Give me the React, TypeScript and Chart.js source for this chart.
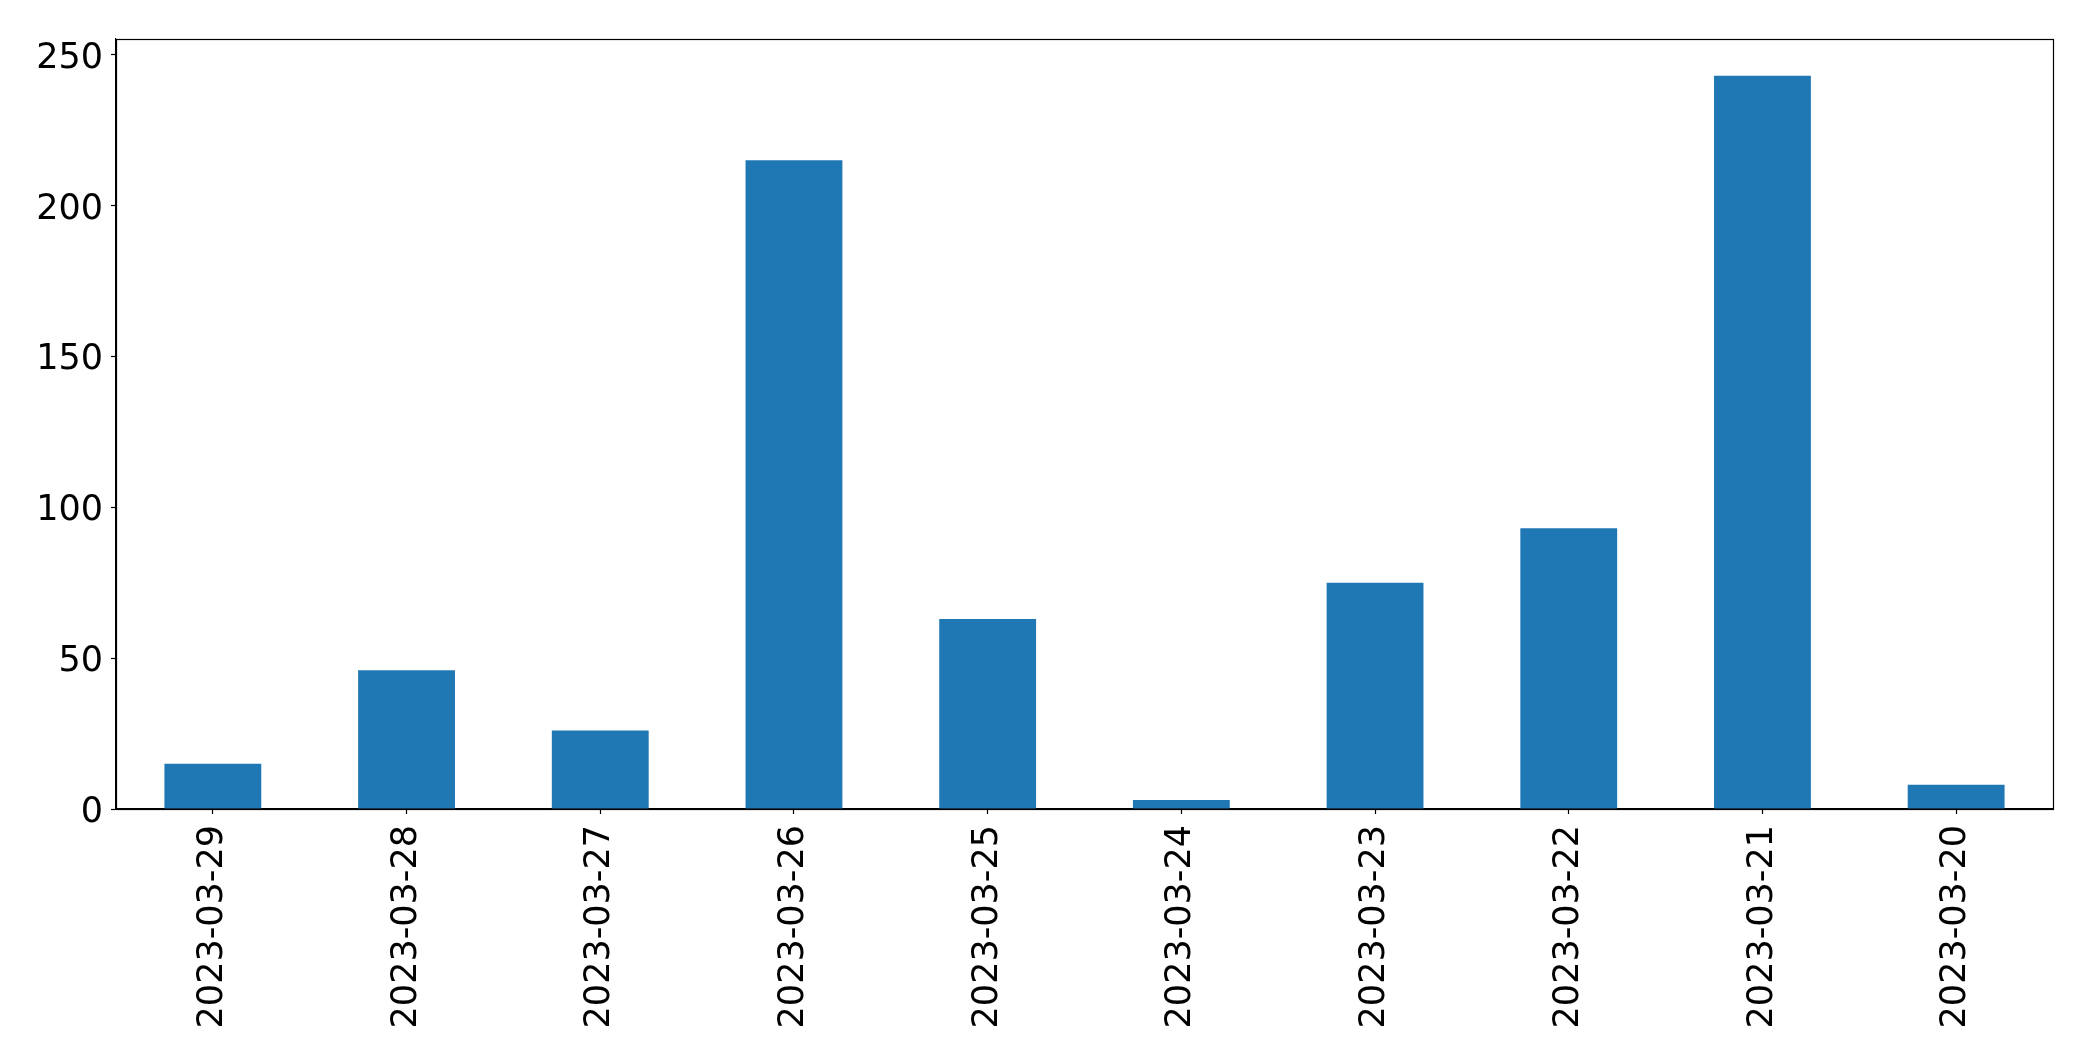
import React, { useEffect, useRef } from "react";
import { Chart, registerables } from "chart.js";

Chart.register(...registerables);

const categories = [
  "2023-03-29",
  "2023-03-28",
  "2023-03-27",
  "2023-03-26",
  "2023-03-25",
  "2023-03-24",
  "2023-03-23",
  "2023-03-22",
  "2023-03-21",
  "2023-03-20",
];
const counts = [15, 46, 26, 215, 63, 3, 75, 93, 243, 8];
const yTicks = [0, 50, 100, 150, 200, 250];
const yMax = 255.15;

const W = 2093;
const H = 1061;
const LEFT = 116;
const RIGHT = 2053;
const TOP = 39;
const BOTTOM = 809;

const framePlugin = {
  id: "frame",
  afterDatasetsDraw(chart: any) {
    const { ctx, chartArea } = chart;
    ctx.save();
    ctx.strokeStyle = "#000";
    ctx.lineWidth = 1.2;
    ctx.strokeRect(
      Math.round(chartArea.left) + 0.5,
      Math.round(chartArea.top) + 0.5,
      Math.round(chartArea.right - chartArea.left),
      Math.round(chartArea.bottom - chartArea.top)
    );
    ctx.restore();
  },
};

export default function App() {
  const ref = useRef<HTMLCanvasElement | null>(null);
  useEffect(() => {
    if (!ref.current) return;
    const font = { family: "'DejaVu Sans', sans-serif", size: 35 };
    const chart = new Chart(ref.current, {
      type: "bar",
      data: {
        labels: categories,
        datasets: [
          {
            data: counts,
            backgroundColor: "#1f77b4",
            borderWidth: 0,
            barPercentage: 0.5,
            categoryPercentage: 1,
          },
        ],
      },
      plugins: [framePlugin],
      options: {
        responsive: false,
        animation: false,
        devicePixelRatio: 1,
        layout: { padding: { left: 0, top: TOP, right: W - RIGHT, bottom: 0 } },
        plugins: { legend: { display: false }, tooltip: { enabled: false } },
        scales: {
          x: {
            offset: true,
            grid: {
              display: true,
              offset: false,
              drawOnChartArea: false,
              drawTicks: true,
              tickLength: 5,
              tickWidth: 1.2,
              tickColor: "#000",
            },
            border: { display: true, color: "#000", width: 1.2 },
            ticks: {
              color: "#000",
              font,
              minRotation: 90,
              maxRotation: 90,
              padding: 11,
              autoSkip: false,
            },
            afterFit(scale: any) {
              scale.height = H - BOTTOM;
            },
          },
          y: {
            min: 0,
            max: yMax,
            grid: {
              display: true,
              drawOnChartArea: false,
              drawTicks: true,
              tickLength: 5,
              tickWidth: 1.2,
              tickColor: "#000",
            },
            border: { display: true, color: "#000", width: 1.2 },
            ticks: {
              color: "#000",
              font,
              padding: 8,
              labelOffset: 4,
            },
            afterBuildTicks(scale: any) {
              scale.ticks = yTicks.map((v) => ({ value: v }));
            },
            afterFit(scale: any) {
              scale.width = LEFT;
            },
          },
        },
      },
    });
    return () => chart.destroy();
  }, []);
  return (
    <div style={{ position: "fixed", left: 0, top: 0, width: W, height: H, background: "#fff" }}>
      <canvas ref={ref} width={W} height={H} style={{ width: W, height: H, display: "block" }} />
    </div>
  );
}
